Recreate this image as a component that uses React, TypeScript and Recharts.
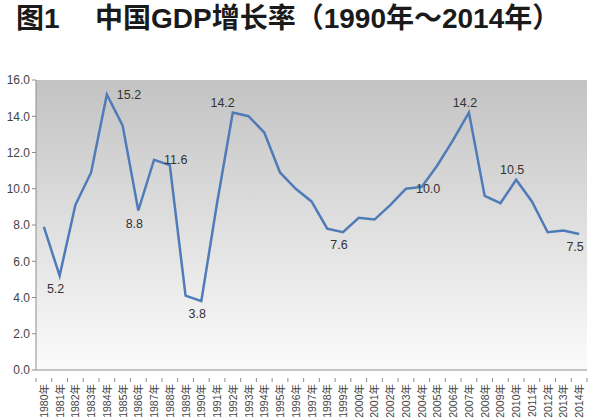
import React from "react";
import {
  LineChart,
  Line,
  XAxis,
  YAxis,
  CartesianGrid,
  LabelList,
} from "recharts";

const years = [
  "1980年", "1981年", "1982年", "1983年", "1984年", "1985年", "1986年",
  "1987年", "1988年", "1989年", "1990年", "1991年", "1992年", "1993年",
  "1994年", "1995年", "1996年", "1997年", "1998年", "1999年", "2000年",
  "2001年", "2002年", "2003年", "2004年", "2005年", "2006年", "2007年",
  "2008年", "2009年", "2010年", "2011年", "2012年", "2013年", "2014年",
];

const growth = [
  7.9, 5.2, 9.1, 10.9, 15.2, 13.5, 8.8, 11.6, 11.3, 4.1, 3.8, 9.2, 14.2,
  14.0, 13.1, 10.9, 10.0, 9.3, 7.8, 7.6, 8.4, 8.3, 9.1, 10.0, 10.1, 11.3,
  12.7, 14.2, 9.6, 9.2, 10.5, 9.3, 7.6, 7.7, 7.5,
];

// which points carry a data label
const labelled = ["1981年", "1984年", "1986年", "1987年", "1990年", "1992年", "1999年", "2003年", "2007年", "2010年", "2014年"];

const yTicks = [0, 2, 4, 6, 8, 10, 12, 14, 16];

const titleNo = "图1";
const titleText = "中国GDP增长率（1990年～2014年）";

const data = years.map((year, i) => ({ year, gdp: growth[i] }));

// where each label sits relative to its point
const placement: Record<string, "below" | "right" | "above" | "aboveLeft"> = {
  "1981年": "below",
  "1984年": "right",
  "1986年": "below",
  "1987年": "right",
  "1990年": "below",
  "1992年": "aboveLeft",
  "1999年": "below",
  "2003年": "right",
  "2007年": "above",
  "2010年": "above",
  "2014年": "below",
};

const STEP = 551 / years.length;
const FONT = "'Liberation Sans', 'Noto Sans CJK SC', sans-serif";

function YearTick({ x, y, payload, index }: any) {
  return (
    <g transform={`translate(${x},${y})`}>
      <line x1={-STEP / 2} y1={0} x2={-STEP / 2} y2={4} stroke="#8c8c8c" />
      {index === years.length - 1 && (
        <line x1={STEP / 2} y1={0} x2={STEP / 2} y2={4} stroke="#8c8c8c" />
      )}
      <text
        transform="rotate(-90)"
        x={-6}
        y={4}
        textAnchor="end"
        fontSize={10.5}
        fill="#444"
        fontFamily={FONT}
      >
        {payload.value}
      </text>
    </g>
  );
}

function PointLabel({ x, y, index }: any) {
  const year = years[index];
  if (!labelled.includes(year)) return null;
  const text = growth[index].toFixed(1);
  const pos = placement[year];
  let tx = x;
  let ty = y;
  let anchor: "start" | "middle" | "end" = "middle";
  if (pos === "below") {
    tx = x - 4;
    ty = y + 17;
  } else if (pos === "right") {
    tx = x + 10;
    ty = y + 4;
    anchor = "start";
  } else if (pos === "above") {
    tx = x - 4;
    ty = y - 6;
  } else {
    tx = x + 2;
    ty = y - 6;
    anchor = "end";
  }
  return (
    <text x={tx} y={ty} textAnchor={anchor} fontSize={12.5} fill="#333" fontFamily={FONT}>
      {text}
    </text>
  );
}

const titleStyle: React.CSSProperties = {
  position: "absolute",
  top: 4,
  fontFamily: FONT,
  fontWeight: "bold",
  fontSize: 28,
  lineHeight: "30px",
  color: "#1a1a1a",
  whiteSpace: "pre",
};

export default function App() {
  return (
    <div
      style={{
        position: "fixed",
        left: 0,
        top: 0,
        width: 600,
        height: 420,
        background: "#fff",
        overflow: "hidden",
      }}
    >
      <svg width={0} height={0} style={{ position: "absolute" }}>
        <defs>
          <linearGradient id="plotBg" x1="0" y1="0" x2="0" y2="1">
            <stop offset="0%" stopColor="#c3c3c3" />
            <stop offset="100%" stopColor="#fbfbfb" />
          </linearGradient>
        </defs>
      </svg>
      <div style={{ ...titleStyle, left: 16 }}>{titleNo}</div>
      <div style={{ ...titleStyle, left: 95 }}>{titleText}</div>
      <LineChart
        width={600}
        height={420}
        data={data}
        margin={{ top: 80, right: 13, left: 6, bottom: 6 }}
      >
        <CartesianGrid
          horizontal={false}
          vertical={false}
          fill="url(#plotBg)"
          fillOpacity={1}
        />
        <XAxis
          dataKey="year"
          scale="band"
          interval={0}
          height={44}
          axisLine={{ stroke: "#8c8c8c" }}
          tickLine={false}
          tick={<YearTick />}
        />
        <YAxis
          domain={[0, 16]}
          ticks={yTicks}
          width={30}
          tickFormatter={(v) => Number(v).toFixed(1)}
          axisLine={{ stroke: "#8c8c8c" }}
          tickLine={{ stroke: "#8c8c8c" }}
          tickSize={4}
          tick={{ fontSize: 12, fill: "#444", fontFamily: FONT }}
        />
        <Line
          type="linear"
          dataKey="gdp"
          stroke="#4f7bb8"
          strokeWidth={2.5}
          dot={false}
          isAnimationActive={false}
        >
          <LabelList dataKey="gdp" content={<PointLabel />} />
        </Line>
      </LineChart>
    </div>
  );
}
